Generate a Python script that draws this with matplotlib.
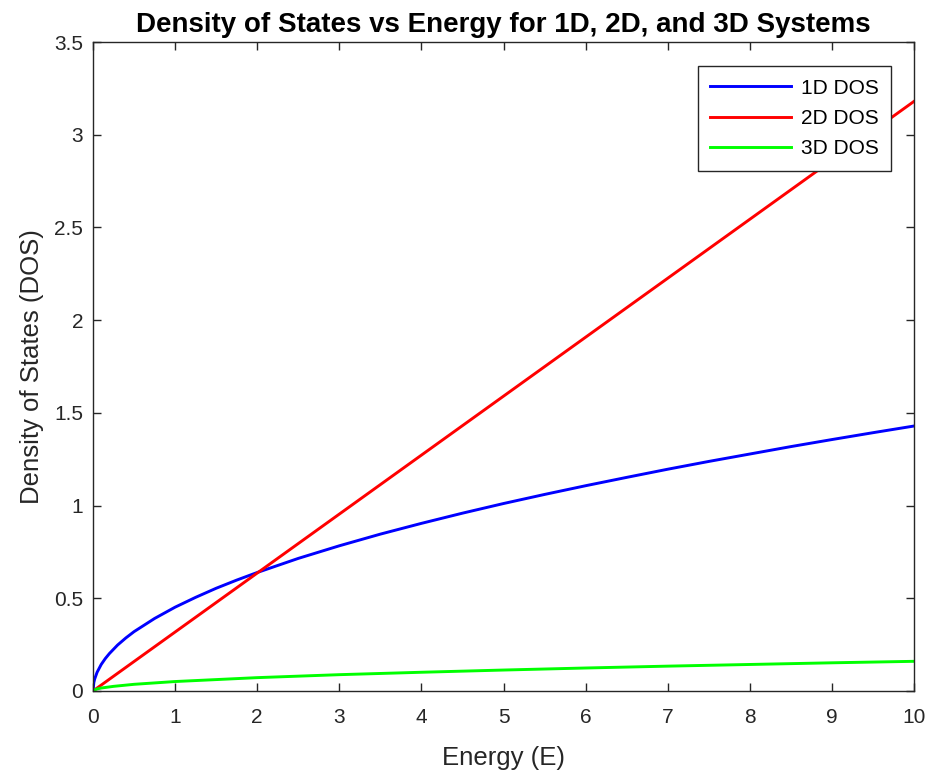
import matplotlib
matplotlib.use("Agg")
import matplotlib.pyplot as plt

# values
e_1d = [0, 0.01, 0.02, 0.05, 0.1, 0.15, 0.2, 0.3, 0.4, 0.5, 0.75, 1, 1.25, 1.5,
        1.75, 2, 2.5, 3, 3.5, 4, 4.5, 5, 5.5, 6, 6.5, 7, 7.5, 8, 8.5, 9, 9.5, 10]
dos_1d = [0, 0.045, 0.064, 0.101, 0.143, 0.175, 0.202, 0.248, 0.286, 0.320,
          0.391, 0.452, 0.505, 0.554, 0.598, 0.639, 0.715, 0.783, 0.846, 0.904,
          0.959, 1.011, 1.060, 1.107, 1.152, 1.196, 1.238, 1.278, 1.318, 1.356,
          1.393, 1.429]

e_2d = [0, 2, 5, 10]
dos_2d = [0, 0.636, 1.59, 3.18]

e_3d = [0, 0.01, 0.05, 0.1, 0.25, 0.5, 1, 2, 3, 4, 5, 6, 7, 8, 9, 10]
dos_3d = [0, 0.005, 0.011, 0.016, 0.025, 0.036, 0.051, 0.072, 0.088, 0.101,
          0.113, 0.124, 0.134, 0.143, 0.152, 0.160]

labels = ["1D DOS", "2D DOS", "3D DOS"]
colors = ["#0000ff", "#ff0000", "#00ff00"]

plt.rcParams["font.family"] = ["Liberation Sans", "DejaVu Sans"]
axcol = "#262626"

fig = plt.figure(figsize=(9.29, 7.75), dpi=100)
ax = fig.add_axes([0.1001, 0.1084, 0.8838, 0.8374])

for x, y, lab, c in zip([e_1d, e_2d, e_3d], [dos_1d, dos_2d, dos_3d], labels, colors):
    ax.plot(x, y, color=c, lw=2.1, label=lab)

ax.set_xlim(0, 10)
ax.set_ylim(0, 3.5)
ax.set_xticks(range(0, 11))
ax.set_yticks([0, 0.5, 1, 1.5, 2, 2.5, 3, 3.5])
ax.set_yticklabels(["0", "0.5", "1", "1.5", "2", "2.5", "3", "3.5"])
ax.tick_params(direction="in", top=True, right=True, length=6, width=1,
               colors=axcol, labelsize=15, pad=7)
ax.tick_params(axis="x", pad=12)
for s in ax.spines.values():
    s.set_color(axcol)
    s.set_linewidth(1)

ax.set_xlabel("Energy (E)", fontsize=18.5, color=axcol, labelpad=14)
ax.set_ylabel("Density of States (DOS)", fontsize=18.5, color=axcol, labelpad=7)
ax.set_title("Density of States vs Energy for 1D, 2D, and 3D Systems",
             fontsize=20, fontweight="bold", pad=7)

leg = ax.legend(loc="upper right", bbox_to_anchor=(0.972, 0.963),
                borderaxespad=0, fontsize=15, fancybox=False, framealpha=1,
                edgecolor="#262626", handlelength=3.9, handletextpad=0.45,
                borderpad=0.6, labelspacing=0.55)
leg.get_frame().set_linewidth(1)

fig.savefig("out.png", dpi=100)
